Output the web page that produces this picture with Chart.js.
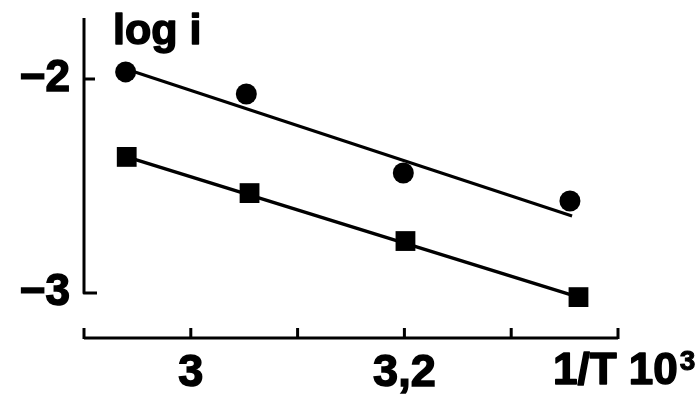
<!DOCTYPE html>
<html>
<head>
<meta charset="utf-8">
<script src="https://cdn.jsdelivr.net/npm/chart.js@4/dist/chart.umd.min.js"></script>
<style>
  html, body { margin: 0; padding: 0; background: #fff; }
  #c { display: block; }
</style>
</head>
<body>
<canvas id="c" width="699" height="394"></canvas>
<script>
// Measured points: log i against 1/T (x10^3)
const circleX = [2.939, 3.052, 3.199, 3.355];
const circleY = [-1.967, -2.070, -2.439, -2.570];
const squareX = [2.940, 3.055, 3.201, 3.363];
const squareY = [-2.364, -2.533, -2.757, -3.019];

// Fitted straight lines (end points)
const fitTopX = [2.942, 3.357];
const fitTopY = [-1.958, -2.640];
const fitBottomX = [2.940, 3.363];
const fitBottomY = [-2.364, -3.019];

// Axis ticks and labels
const xTickValues = [2.9, 3.0, 3.1, 3.2, 3.3, 3.4];
const xTickLabels = ['', '3', '', '3,2', '', ''];
const yTickValues = [-3, -2];
const yTickLabels = ['\u22123', '\u22122'];

const X_MIN = 2.9, X_MAX = 3.4;
const Y_MIN = -3.21, Y_MAX = -1.715;

const FONT = '"Liberation Sans", Arial, Helvetica, sans-serif';

const toPoints = (xs, ys) => xs.map((x, i) => ({ x: x, y: ys[i] }));

// heavy text: fill plus a thin outline
function heavyText(ctx, text, x, y, sw) {
  ctx.lineWidth = sw;
  ctx.lineJoin = 'round';
  ctx.strokeText(text, x, y);
  ctx.fillText(text, x, y);
}

// Hand-drawn style axes: left axis ends in a hook at -3, bottom axis has upward ticks
const axesPlugin = {
  id: 'axesPlugin',
  beforeDatasetsDraw(chart) {
    const { ctx, chartArea, scales } = chart;
    const x = scales.x, y = scales.y;
    ctx.save();
    ctx.strokeStyle = '#000';
    ctx.lineWidth = 3;
    ctx.lineCap = 'butt';
    ctx.lineJoin = 'round';

    const xl = x.getPixelForValue(X_MIN);
    const y3 = y.getPixelForValue(-3);
    const y2 = y.getPixelForValue(-2);

    ctx.beginPath();
    ctx.moveTo(xl, chartArea.top);
    ctx.lineTo(xl, y3);
    ctx.lineTo(xl + 13, y3);
    ctx.moveTo(xl, y2);
    ctx.lineTo(xl + 11, y2);
    ctx.stroke();

    const yb = chartArea.bottom;
    ctx.beginPath();
    ctx.moveTo(xl, yb);
    ctx.lineTo(x.getPixelForValue(X_MAX), yb);
    x.ticks.forEach(t => {
      const px = x.getPixelForValue(t.value);
      ctx.moveTo(px, yb + 1);
      ctx.lineTo(px, yb - 10);
    });
    ctx.stroke();

    // axis titles
    ctx.fillStyle = '#000';
    ctx.textBaseline = 'alphabetic';
    ctx.textAlign = 'left';
    ctx.font = 'bold 43px ' + FONT;
    heavyText(ctx, 'log i', 113, 44, 1.5);

    ctx.font = 'bold 44px ' + FONT;
    const base = 384;
    const part = '1/T 10';
    heavyText(ctx, part, 553, base, 1.5);
    const w = ctx.measureText(part).width;
    ctx.font = 'bold 28px ' + FONT;
    heavyText(ctx, '3', 553 + w + 2, base - 14, 1);
    ctx.restore();
  }
};

new Chart(document.getElementById('c'), {
  type: 'scatter',
  plugins: [axesPlugin],
  data: {
    datasets: [
      {
        type: 'line',
        data: toPoints(fitTopX, fitTopY),
        borderColor: '#000',
        borderWidth: 3,
        pointRadius: 0,
        fill: false,
        tension: 0
      },
      {
        type: 'line',
        data: toPoints(fitBottomX, fitBottomY),
        borderColor: '#000',
        borderWidth: 3.5,
        pointRadius: 0,
        fill: false,
        tension: 0
      },
      {
        data: toPoints(circleX, circleY),
        pointStyle: 'circle',
        pointRadius: 10.5,
        backgroundColor: '#000',
        borderColor: '#000',
        borderWidth: 0
      },
      {
        data: toPoints(squareX, squareY),
        pointStyle: 'rect',
        pointRadius: 14,
        backgroundColor: '#000',
        borderColor: '#000',
        borderWidth: 0
      }
    ]
  },
  options: {
    responsive: false,
    animation: false,
    layout: { padding: { top: 18, right: 81, left: 0, bottom: 0 } },
    plugins: {
      legend: { display: false },
      tooltip: { enabled: false },
      title: { display: false }
    },
    elements: { line: { borderCapStyle: 'butt' } },
    scales: {
      x: {
        type: 'linear',
        min: X_MIN,
        max: X_MAX,
        grid: { display: false, drawTicks: false },
        border: { display: false },
        afterBuildTicks(scale) { scale.ticks = xTickValues.map(v => ({ value: v })); },
        afterFit(scale) {
          scale.height = 56;
          scale.paddingLeft = 0; scale.paddingRight = 0;
        },
        ticks: {
          autoSkip: false,
          maxRotation: 0,
          padding: 9,
          color: '#000',
          textStrokeColor: '#000',
          textStrokeWidth: 1.5,
          font: { family: FONT, size: 45, weight: 'bold' },
          callback: (v, i) => xTickLabels[i]
        }
      },
      y: {
        type: 'linear',
        min: Y_MIN,
        max: Y_MAX,
        grid: { display: false, drawTicks: false },
        border: { display: false },
        afterBuildTicks(scale) { scale.ticks = yTickValues.map(v => ({ value: v })); },
        afterFit(scale) {
          scale.width = 84;
          scale.paddingTop = 0; scale.paddingBottom = 0;
        },
        ticks: {
          autoSkip: false,
          padding: 14,
          color: '#000',
          textStrokeColor: '#000',
          textStrokeWidth: 1.5,
          font: { family: FONT, size: 44, weight: 'bold' },
          callback: (v, i) => yTickLabels[i]
        }
      }
    }
  }
});
</script>
</body>
</html>
